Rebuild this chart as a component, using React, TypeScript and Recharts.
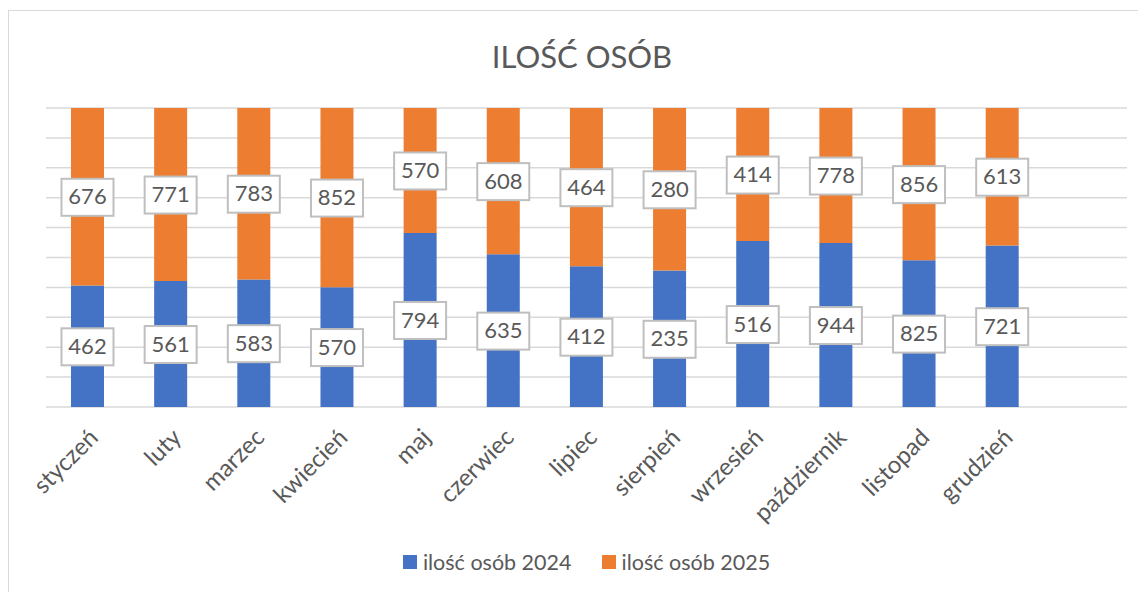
import { BarChart, Bar, XAxis, YAxis, CartesianGrid, Legend, LabelList } from 'recharts'

// months (the last, empty row is part of the source range)
const months = [
  'styczeń', 'luty', 'marzec', 'kwiecień', 'maj', 'czerwiec',
  'lipiec', 'sierpień', 'wrzesień', 'październik', 'listopad', 'grudzień', '',
]
const osoby2024 = [462, 561, 583, 570, 794, 635, 412, 235, 516, 944, 825, 721, null]
const osoby2025 = [676, 771, 783, 852, 570, 608, 464, 280, 414, 778, 856, 613, null]
const yTicks = [0, 0.1, 0.2, 0.3, 0.4, 0.5, 0.6, 0.7, 0.8, 0.9, 1]

const series = [
  { key: 'y2024', name: 'ilość osób 2024', color: '#4472C4' },
  { key: 'y2025', name: 'ilość osób 2025', color: '#ED7D31' },
]

const data = months.map((m, i) => ({ month: m, y2024: osoby2024[i], y2025: osoby2025[i] }))

const FONT = 'Lato, "Liberation Sans", sans-serif'
const TEXT = '#595959'

const MonthTick = ({ x, y, payload }: any) => (
  <text
    x={x + 12}
    y={y + 24}
    textAnchor="end"
    transform={`rotate(-45, ${x + 12}, ${y + 24})`}
    fontSize={24}
    fill={TEXT}
    fontFamily={FONT}
  >
    {payload.value}
  </text>
)

const BoxLabel = ({ x, y, width, height, value }: any) => {
  if (value == null) return null
  const cx = x + width / 2
  const cy = y + height / 2
  return (
    <g>
      <rect x={cx - 26} y={cy - 18} width={52} height={37} fill="#fff" stroke="#bfbfbf" strokeWidth={2} />
      <text x={cx} y={cy + 2} textAnchor="middle" dominantBaseline="middle" fontSize={22} fill={TEXT} fontFamily={FONT}>
        {value}
      </text>
    </g>
  )
}

const LegendContent = () => (
  <div style={{ display: 'flex', justifyContent: 'center', alignItems: 'center', gap: 30, fontFamily: FONT }}>
    {series.map(s => (
      <div key={s.key} style={{ display: 'flex', alignItems: 'center' }}>
        <span style={{ width: 14, height: 14, background: s.color, marginRight: 6, display: 'inline-block' }} />
        <span style={{ fontSize: 21.5, color: TEXT }}>{s.name}</span>
      </div>
    ))}
  </div>
)

export default function App() {
  return (
    <div style={{ marginTop: 2, width: 1150, height: 600, border: '1px solid #d9d9d9', position: 'relative', background: '#fff' }}>
      <div
        style={{
          position: 'absolute', top: 26, left: 0, width: 1146, textAlign: 'center',
          fontFamily: FONT, fontSize: 31, color: TEXT,
        }}
      >
        ILOŚĆ OSÓB
      </div>
      <BarChart
        width={1138}
        height={590}
        data={data}
        stackOffset="expand"
        margin={{ top: 97, right: 20, left: 37, bottom: 12 }}
      >
        <CartesianGrid vertical={false} stroke="#d9d9d9" strokeWidth={1.5} />
        <XAxis dataKey="month" axisLine={false} tickLine={false} interval={0} height={142} tick={<MonthTick />} />
        <YAxis hide domain={[0, 1]} ticks={yTicks} />
        <Legend verticalAlign="bottom" height={40} content={<LegendContent />} />
        {series.map(s => (
          <Bar key={s.key} dataKey={s.key} name={s.name} stackId="a" fill={s.color} barSize={33} isAnimationActive={false}>
            <LabelList dataKey={s.key} content={<BoxLabel />} />
          </Bar>
        ))}
      </BarChart>
    </div>
  )
}
